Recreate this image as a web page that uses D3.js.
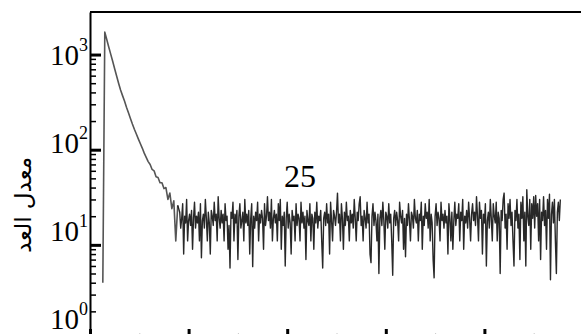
<!DOCTYPE html>
<html>
<head>
    <meta charset="utf-8"/>
    <title>Count rate</title>
    <style>
        body, html { margin:0; background:#fff; }
        svg { display:block; }
        .spine { stroke:#000; stroke-width:2px; fill:none; }
        .decay { fill:none; stroke:#555; stroke-width:1.6px; stroke-linejoin:round; }
        .background { fill:none; stroke:#111; stroke-width:1.4px; stroke-opacity:0.9; stroke-linejoin:round; }
    </style>
    <script src="https://cdnjs.cloudflare.com/ajax/libs/d3/7.8.5/d3.min.js"></script>
</head>
<body>
<svg id="chart" width="581" height="334"></svg>
<script>
const SERIF = "'Liberation Serif', 'Times New Roman', 'DejaVu Serif', serif";

// prompt peak + exponential decay: every 2nd channel from channel 13
const decayStart = 13;
const decayStep = 2;
const decayCounts = [
    4, 1720, 1440, 1200, 1010, 850, 710, 595, 500, 425,
    370, 325, 280, 245, 213, 186, 164, 146, 130, 116,
    104, 92, 83, 75, 70, 62, 60, 52, 51, 45,
    45, 39, 40, 30, 35, 24, 29, 11, 26
];

// flat random background: every channel from 91
const backgroundStart = 91;
const backgroundStep = 1;
const backgroundCounts = [
    22, 15, 19, 27, 8, 20, 17, 30, 11, 18, 21, 16, 23, 9, 19, 28, 15, 20, 17, 22,
    11, 27, 7.3, 18, 21, 15, 30, 19, 11, 22, 17, 8, 23, 20, 16, 28, 18, 21, 11, 32,
    19, 15, 23, 17, 21, 11, 27, 18, 20, 9, 16, 5.7, 22, 19, 28, 11, 21, 17, 23, 7,
    20, 27, 15, 18, 22, 11, 30, 17, 21, 16, 23, 8, 19, 27, 5.9, 20, 15, 22, 18, 28,
    11, 21, 17, 23, 19, 9, 27, 16, 20, 32, 18, 22, 15, 30, 11, 19, 23, 17, 21, 11,
    27, 18, 30, 9, 20, 16, 22, 6, 19, 28, 15, 21, 17, 8, 23, 18, 20, 11, 27, 16,
    21, 19, 11, 28, 17, 22, 15, 20, 7, 23, 18, 16, 27, 11, 21, 19, 9, 22, 17, 28,
    15, 20, 18, 23, 11, 5.7, 19, 22, 16, 27, 17, 21, 8, 28, 18, 11, 23, 20, 16, 22,
    35, 17, 21, 11, 27, 19, 9, 22, 16, 28, 18, 20, 11, 23, 17, 21, 15, 30, 19, 11,
    22, 18, 27, 32, 16, 20, 11, 23, 19, 15, 28, 17, 21, 8, 6.5, 20, 27, 16, 22, 18,
    11, 21, 5, 19, 23, 16, 28, 18, 9, 22, 20, 15, 27, 17, 21, 11, 4.8, 19, 23, 16,
    22, 18, 11, 28, 20, 17, 23, 9, 19, 7.5, 21, 16, 27, 18, 11, 22, 20, 15, 30, 19,
    17, 23, 11, 21, 18, 28, 9, 20, 16, 27, 19, 22, 15, 30, 11, 21, 17, 7, 4.5, 20,
    27, 16, 22, 19, 11, 28, 18, 21, 15, 23, 17, 20, 8, 27, 19, 11, 22, 9, 18, 28,
    16, 21, 19, 27, 11, 22, 18, 30, 9, 20, 17, 23, 15, 28, 19, 11, 21, 27, 18, 22,
    16, 32, 20, 11, 28, 19, 23, 8, 21, 17, 27, 6, 18, 22, 15, 30, 19, 11, 27, 20,
    17, 28, 11, 22, 19, 5, 23, 18, 30, 35, 15, 21, 9, 27, 19, 30, 16, 22, 11, 6,
    23, 18, 30, 15, 21, 7, 28, 19, 32, 11, 22, 6, 38, 20, 16, 30, 9, 27, 19, 32,
    15, 33, 20, 27, 11, 30, 7, 22, 18, 32, 16, 23, 9, 30, 19, 34, 4.3, 21, 28, 17,
    30, 11, 5, 22, 28, 18, 30
];

const decades = [1, 10, 100, 1000];
const xMajorTicks = [0, 100, 200, 300, 400, 500];
const xMinorTicks = [50, 150, 250, 350, 450];
const yTitle = "معدل العد";
const annotation = { channel: 213, count: 41, text: "25" };

const svg = d3.select("#chart");

const x = d3.scaleLinear().domain([0, 500]).range([90, 583]);
const y = d3.scaleLog().domain([1, 2800]).range([340, 12]);
// tick labels in the scan sit on a slightly tighter spacing than the ticks
const labelY = d3.scaleLog().domain([1, 1000]).range([318, 54]);

const decayPts = decayCounts.map((c, i) => ({ ch: decayStart + i * decayStep, c: c }));
const bgPts = backgroundCounts.map((c, i) => ({ ch: backgroundStart + i * backgroundStep, c: c }));

const line = d3.line()
    .x(d => x(d.ch))
    .y(d => y(d.c));

svg.append("path")
    .datum(decayPts)
    .attr("class", "decay")
    .attr("d", line);

svg.append("path")
    .datum([decayPts[decayPts.length - 1]].concat(bgPts))
    .attr("class", "background")
    .attr("d", line);

// y minor ticks
const yMinor = [];
decades.slice(0, 3).forEach(d => { for (let k = 2; k <= 9; k++) yMinor.push(d * k); });

svg.append("g")
    .attr("transform", `translate(${x(0)},0)`)
    .call(d3.axisRight(y).tickValues(yMinor).tickSize(6).tickFormat(""))
    .call(g => g.select(".domain").remove())
    .call(g => g.selectAll(".tick line").attr("stroke-width", 1.5));

svg.append("g")
    .attr("transform", `translate(${x(0)},0)`)
    .call(d3.axisRight(y).tickValues(decades).tickSize(11).tickSizeOuter(0).tickFormat(""))
    .call(g => g.select(".domain").attr("stroke-width", 2))
    .call(g => g.selectAll(".tick line").attr("stroke-width", 3));

// decade labels 10^n
svg.append("g")
    .attr("transform", "translate(88,0)")
    .call(d3.axisLeft(labelY).tickValues(decades).tickSize(0).tickPadding(0).tickFormat(""))
    .call(g => g.select(".domain").remove())
    .call(g => g.selectAll(".tick text").each(function(d) {
        const t = d3.select(this)
            .style("font-family", SERIF)
            .style("font-size", "29px")
            .attr("fill", "#000")
            .attr("dy", "0.35em");
        t.append("tspan").text("10");
        t.append("tspan")
            .style("font-size", "18px")
            .attr("dy", "-0.75em")
            .text(Math.round(Math.log10(d)));
    }));

// x ticks on the bottom spine (spine itself is below the visible area)
svg.append("g")
    .attr("transform", `translate(0,${y(1)})`)
    .call(d3.axisTop(x).tickValues(xMinorTicks).tickSize(7).tickFormat(""))
    .call(g => g.select(".domain").remove())
    .call(g => g.selectAll(".tick line").attr("stroke", "#c8c8c8"));

svg.append("g")
    .attr("transform", `translate(0,${y(1)})`)
    .call(d3.axisTop(x).tickValues(xMajorTicks).tickSize(11).tickSizeOuter(0).tickFormat(""))
    .call(g => g.select(".domain").attr("stroke-width", 2))
    .call(g => g.selectAll(".tick line").attr("stroke-width", 3));

// top spine
svg.append("line")
    .attr("class", "spine")
    .attr("x1", x.range()[0]).attr("x2", x.range()[1])
    .attr("y1", y.range()[1]).attr("y2", y.range()[1]);

svg.append("text")
    .style("font-family", "'DejaVu Sans', sans-serif")
    .style("font-size", "23px")
    .attr("fill", "#000")
    .attr("text-anchor", "middle")
    .attr("transform", "translate(31,205) rotate(-90)")
    .text(yTitle);

svg.append("text")
    .style("font-family", SERIF)
    .style("font-size", "32px")
    .attr("fill", "#000")
    .attr("text-anchor", "middle")
    .attr("x", x(annotation.channel))
    .attr("y", y(annotation.count))
    .text(annotation.text);
</script>
</body>
</html>
